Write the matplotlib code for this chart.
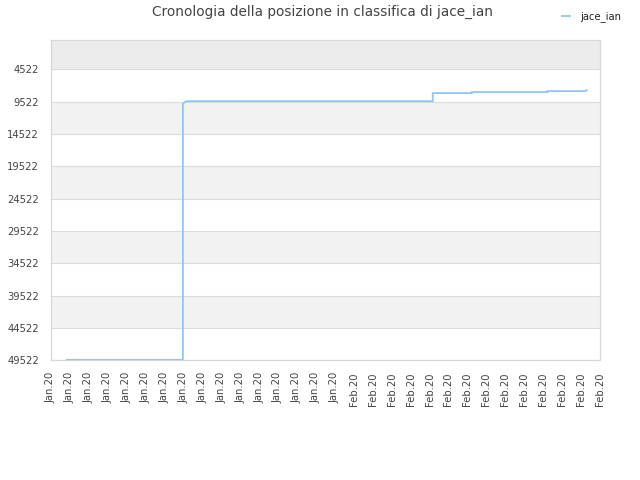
import matplotlib
matplotlib.use("Agg")
import matplotlib.pyplot as plt
import numpy as np

# ---- data ----
x_labels = ["Jan.20"] * 16 + ["Feb.20"] * 14
y_ticks = [4522, 9522, 14522, 19522, 24522, 29522, 34522, 39522, 44522, 49522]
series_name = "jace_ian"
pos_x = [0.85, 6.98, 6.98, 7.15, 20.17, 20.17, 22.23, 22.23, 26.24, 26.24, 28.25, 28.30]
pos_rank = [49450, 49450, 9850, 9450, 9450, 8200, 8200, 8045, 8045, 7890, 7890, 7735]
title = "Cronologia della posizione in classifica di jace_ian"

y_top = 37
y_bottom = 49522

fig = plt.figure(figsize=(6.4, 4.8), dpi=100)
ax = fig.add_axes([0.0792, 0.2494, 0.9375 - 0.0792, 0.916 - 0.2494])

# alternating bands
edges = [y_top] + y_ticks
for i in range(len(edges) - 1):
    if i == 0:
        col = "#ececec"
    elif i % 2 == 0:
        col = "#f2f2f2"
    else:
        col = "#ffffff"
    ax.axhspan(edges[i], edges[i + 1], color=col, zorder=0, lw=0)
for t in y_ticks:
    ax.axhline(t, color="#dcdcdc", lw=0.8, zorder=1)

ax.plot(pos_x, pos_rank, color="#92c5f5", lw=1.3, zorder=3, label=series_name,
        solid_joinstyle="miter")

ax.set_xlim(0, len(x_labels) - 1)
ax.set_ylim(y_bottom, y_top)
ax.set_xticks(range(len(x_labels)))
ax.set_xticklabels(x_labels, rotation=90)
ax.set_yticks(y_ticks)
ax.set_yticklabels([str(t) for t in y_ticks])
ax.tick_params(length=0, labelsize=7.2, colors="#444444")
ax.tick_params(axis="y", pad=8.5)
ax.tick_params(axis="x", pad=8.5)
for s in ax.spines.values():
    s.set_color("#d8d8d8")
    s.set_linewidth(0.9)

fig.text(0.504, 1 - 12 / 480, title, ha="center", va="center", fontsize=9.8, color="#444444")
fig.legend(loc="upper right", bbox_to_anchor=(0.985, 0.995), frameon=False,
           fontsize=7.2, handlelength=0.8, handletextpad=1.0, labelcolor="#222222")

fig.savefig("out.png", dpi=100)
